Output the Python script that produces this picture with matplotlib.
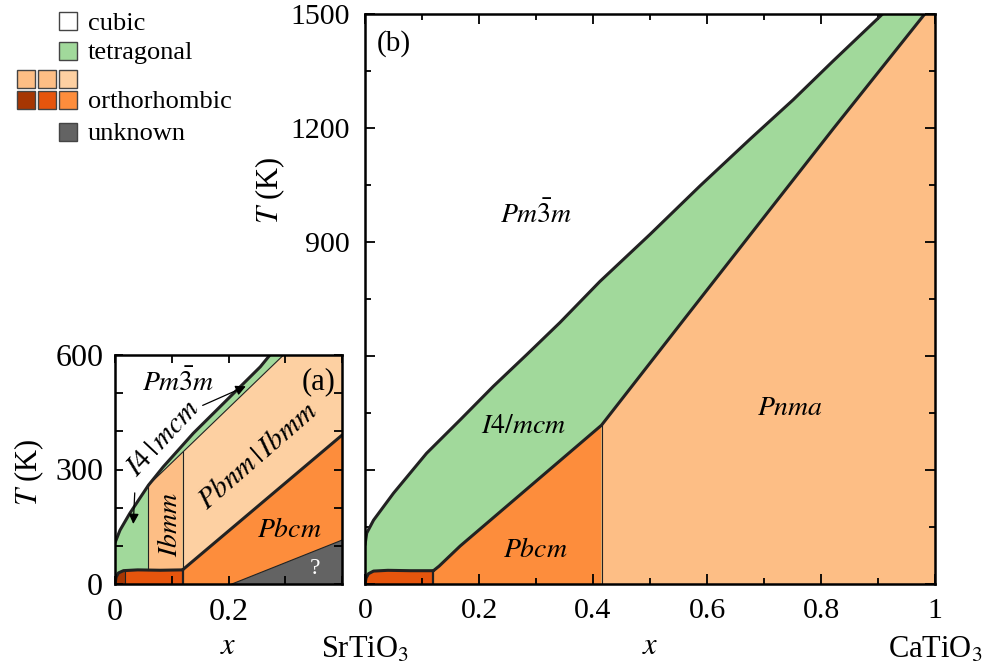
import numpy as np
import matplotlib
matplotlib.use("Agg")
import matplotlib.pyplot as plt
from matplotlib.patches import Rectangle
from matplotlib.ticker import MultipleLocator, FixedLocator, FuncFormatter

plt.rcParams["font.family"] = ["Liberation Serif", "DejaVu Serif"]
plt.rcParams["mathtext.fontset"] = "stix"

# ---------------- colours ----------------
C_TET = "#a1d99b"
C_ORT_LIGHT = ["#fdbe85", "#fdbe85", "#fdd0a2"]
C_ORT_DARK = ["#a63603", "#e6550d", "#fd8d3c"]
C_UNK = "#636363"
LINE = "#222222"

# ---------------- panel (b) data ----------------
b_cub_x = [0.0, 0.003, 0.015, 0.05, 0.108, 0.167, 0.225, 0.284, 0.342, 0.412,
           0.5, 0.588, 0.675, 0.751, 0.821, 0.908]
b_cub_T = [103, 134, 168, 239, 344, 432, 520, 604, 688, 796,
           920, 1048, 1170, 1274, 1376, 1500]
b_ort_x = [0.12, 0.13, 0.167, 0.284, 0.415, 0.559, 0.705, 0.822, 0.982]
b_ort_T = [35, 47, 100, 250, 418, 695, 975, 1199, 1500]
b_low_x = [0.0, 0.002, 0.006, 0.015, 0.04, 0.08, 0.12]
b_low_T = [0, 16, 27, 34, 36, 35, 35]
b_pnma_x = 0.415

# ---------------- panel (a) data ----------------
a_cub_x = [0.0, 0.0088, 0.026, 0.059, 0.085, 0.138, 0.197, 0.256, 0.273]
a_cub_T = [108, 141, 185, 259, 307, 395, 482, 569, 600]
a_tet_x = [0.059, 0.297]
a_tet_T = [259, 600]
a_ibmm_x = [0.059, 0.119]
a_pbcm_x = [0.119, 0.4]
a_pbcm_T = [37, 390]
a_low_x = [0.0, 0.002, 0.006, 0.015, 0.04, 0.08, 0.119]
a_low_T = [0, 18, 29, 35, 37, 36, 37]
a_low_split = 0.018
a_unk_x = [0.206, 0.4]
a_unk_T = [0, 115]

# ---------------- figure ----------------
W, H = 988, 666
fig = plt.figure(figsize=(W / 100, H / 100), dpi=100)

def px_axes(l, t, r, b):
    return fig.add_axes([l / W, (H - b) / H, (r - l) / W, (b - t) / H])

axb = px_axes(365, 14, 935, 584)
axa = px_axes(115, 355, 342, 584)

thick = dict(color=LINE, lw=2.2, solid_capstyle="round", solid_joinstyle="round", zorder=3)
thin = dict(color=LINE, lw=0.8, zorder=3)

# ---------------- panel (b) ----------------
xmax, Tmax = 1.0, 1500
axb.fill(b_cub_x + [xmax, xmax, 0], b_cub_T + [Tmax, 0, 0], color=C_TET, lw=0)
ox = np.array(b_ort_x); oT = np.array(b_ort_T)
m1 = ox <= b_pnma_x
axb.fill([b_ort_x[0]] + list(ox[m1]) + [b_pnma_x], [0] + list(oT[m1]) + [0],
         color=C_ORT_DARK[2], lw=0)
m2 = ox >= b_pnma_x
axb.fill([b_pnma_x] + list(ox[m2]) + [xmax, xmax], [0] + list(oT[m2]) + [Tmax, 0],
         color=C_ORT_LIGHT[0], lw=0)
axb.fill(b_low_x + [b_low_x[-1]], b_low_T + [0], color=C_ORT_DARK[1], lw=0)

axb.plot(b_cub_x, b_cub_T, **thick)
axb.plot(b_ort_x, b_ort_T, **thick)
axb.plot(b_low_x, b_low_T, **thick)
axb.plot([b_low_x[-1], b_low_x[-1]], [0, b_low_T[-1]], color=LINE, lw=1.6, zorder=3)
T_kink = np.interp(b_pnma_x, b_ort_x, b_ort_T)
axb.plot([b_pnma_x, b_pnma_x], [0, T_kink], **thin)

axb.set_xlim(0, xmax)
axb.set_ylim(0, Tmax)
axb.xaxis.set_major_locator(MultipleLocator(0.2))
axb.xaxis.set_minor_locator(MultipleLocator(0.1))
axb.yaxis.set_major_locator(MultipleLocator(300))
axb.yaxis.set_minor_locator(MultipleLocator(150))
axb.xaxis.set_major_formatter(FuncFormatter(lambda v, p: f"{v:g}"))
# lower labels of (b) are hidden behind inset (a)
axb.yaxis.set_major_formatter(FuncFormatter(lambda v, p: f"{v:g}" if v > 700 else ""))

lab = dict(fontsize=20, ha="center", va="center", zorder=4)
axb.text(0.30, 971, r"$Pm\bar{3}m$", **lab)
axb.text(0.278, 414, r"$I4/mcm$", **lab)
axb.text(0.298, 89, r"$Pbcm$", **lab)
axb.text(0.746, 463, r"$Pnma$", **lab)
axb.text(0.05, 1423, "(b)", fontsize=21, ha="center", va="center")

axb.set_ylabel(r"$T$ (K)", fontsize=22)
axb.yaxis.label.set_va("center")
axb.yaxis.set_label_coords(-0.167, 0.691)
axb.set_xlabel(r"$x$", fontsize=22)
axb.xaxis.label.set_va("center")
axb.xaxis.set_label_coords(0.5, -0.1105)
axb.text(0.0, -0.116, r"SrTiO$_3$", transform=axb.transAxes, fontsize=22,
         ha="center", va="center")
axb.text(1.0, -0.116, r"CaTiO$_3$", transform=axb.transAxes, fontsize=22,
         ha="center", va="center")

# ---------------- panel (a) ----------------
axmax, aTmax = 0.4, 600
axa.fill(a_cub_x + [axmax, axmax, 0], a_cub_T + [aTmax, 0, 0], color=C_TET, lw=0)
T_tet_split = np.interp(a_ibmm_x[1], a_tet_x, a_tet_T)
# Pbnm/Ibmm
axa.fill([a_ibmm_x[1], a_tet_x[1], axmax, axmax, a_pbcm_x[0]],
         [T_tet_split, a_tet_T[1], aTmax, a_pbcm_T[1], a_pbcm_T[0]],
         color=C_ORT_LIGHT[2], lw=0)
# Ibmm
axa.fill([a_ibmm_x[0], a_ibmm_x[0], a_ibmm_x[1], a_ibmm_x[1]],
         [a_pbcm_T[0], a_tet_T[0], T_tet_split, a_pbcm_T[0]],
         color=C_ORT_LIGHT[0], lw=0)
# Pbcm
axa.fill([a_pbcm_x[0], a_pbcm_x[0], a_pbcm_x[1], a_unk_x[1], a_unk_x[0]],
         [0, a_pbcm_T[0], a_pbcm_T[1], a_unk_T[1], a_unk_T[0]],
         color=C_ORT_DARK[2], lw=0)
# unknown
axa.fill([a_unk_x[0], a_unk_x[1], a_unk_x[1]], [a_unk_T[0], a_unk_T[1], 0],
         color=C_UNK, lw=0)
# low-T phases
lx = np.array(a_low_x); lT = np.array(a_low_T)
Tsplit = np.interp(a_low_split, lx, lT)
ml = lx < a_low_split
axa.fill(list(lx[ml]) + [a_low_split, a_low_split], list(lT[ml]) + [Tsplit, 0],
         color=C_ORT_DARK[0], lw=0)
mr = lx > a_low_split
axa.fill([a_low_split, a_low_split] + list(lx[mr]) + [lx[-1]],
         [0, Tsplit] + list(lT[mr]) + [0], color=C_ORT_DARK[1], lw=0)

axa.plot(a_cub_x, a_cub_T, **thick)
axa.plot(a_tet_x, a_tet_T, **thin)
axa.plot([a_ibmm_x[0]] * 2, [a_low_T[-1], a_tet_T[0]], **thin)
axa.plot([a_ibmm_x[1]] * 2, [a_pbcm_T[0], T_tet_split], **thin)
axa.plot(a_pbcm_x, a_pbcm_T, **thick)
axa.plot(a_low_x, a_low_T, **thick)
axa.plot([a_ibmm_x[1]] * 2, [0, a_pbcm_T[0]], color=LINE, lw=1.6, zorder=3)
axa.plot([a_low_split] * 2, [0, Tsplit], **thin)
axa.plot(a_unk_x, a_unk_T, **thin)

axa.set_xlim(0, axmax)
axa.set_ylim(0, aTmax)
axa.xaxis.set_major_locator(FixedLocator([0, 0.2, 0.4]))
axa.xaxis.set_minor_locator(FixedLocator([0.1, 0.3]))
axa.xaxis.set_major_formatter(FuncFormatter(lambda v, p: "" if v > 0.3 else f"{v:g}"))
axa.yaxis.set_major_locator(MultipleLocator(300))
axa.yaxis.set_minor_locator(MultipleLocator(100))

axa.text(0.112, 526, r"$Pm\bar{3}m$", **lab)
axa.text(0.358, 530, "(a)", fontsize=22, ha="center", va="center")
axa.text(0.085, 380, r"$I4\,|\,mcm$", rotation=47, fontsize=21, ha="center",
         va="center", zorder=4)
axa.text(0.252, 335, r"$Pbnm\,|\,Ibmm$", rotation=41, fontsize=21, ha="center",
         va="center", zorder=4)
axa.text(0.097, 155, r"$Ibmm$", rotation=90, **lab)
axa.text(0.308, 141, r"$Pbcm$", **lab)
axa.text(0.352, 41, "?", fontsize=17, color="white", ha="center", va="center", zorder=4)
arrow = dict(arrowstyle="-|>", color="black", lw=0.9, mutation_scale=15)
axa.annotate("", xy=(0.032, 150), xytext=(0.035, 246), arrowprops=arrow, zorder=4)
axa.annotate("", xy=(0.235, 521), xytext=(0.150, 465), arrowprops=arrow, zorder=4)

axa.set_ylabel(r"$T$ (K)", fontsize=22)
axa.yaxis.label.set_va("center")
axa.yaxis.set_label_coords(-0.379, 0.489)
axa.set_xlabel(r"$x$", fontsize=22)
axa.xaxis.label.set_va("center")
axa.xaxis.set_label_coords(0.5, -0.275)

# ---------------- common axis styling ----------------
for ax, ypad, lsize, mlen, mnlen in ((axb, 11, 21.5, 7.5, 4.5), (axa, 8.5, 23, 6, 6)):
    for s in ax.spines.values():
        s.set_linewidth(1.8)
        s.set_zorder(5)
    ax.tick_params(which="both", direction="in", top=True, right=True, width=1.3,
                   labelsize=lsize, zorder=6)
    ax.tick_params(which="major", length=mlen)
    ax.tick_params(which="minor", length=mnlen)
    ax.tick_params(axis="x", which="major", pad=10)
    ax.tick_params(axis="y", which="major", pad=ypad)

# ---------------- legend ----------------
lax = fig.add_axes([0, 0, 1, 1], zorder=10)
lax.set_xlim(0, W)
lax.set_ylim(H, 0)
lax.axis("off")
leg_labels = ["cubic", "tetragonal", "orthorhombic", "unknown"]
sw = 18
def sq(x, y, c):
    lax.add_patch(Rectangle((x, y), sw, sw, facecolor=c, edgecolor="#444444", lw=1.0))
sq(59, 12, "white")
sq(59, 42, C_TET)
for i, cx in enumerate([17, 38, 59]):
    sq(cx, 70, C_ORT_LIGHT[i])
    sq(cx, 91, C_ORT_DARK[i])
sq(59, 123, C_UNK)
for lbl, y in zip(leg_labels, [21, 51, 100, 132]):
    lax.text(88, y, lbl, fontsize=19, ha="left", va="center_baseline")

fig.savefig("out.png", dpi=100)
